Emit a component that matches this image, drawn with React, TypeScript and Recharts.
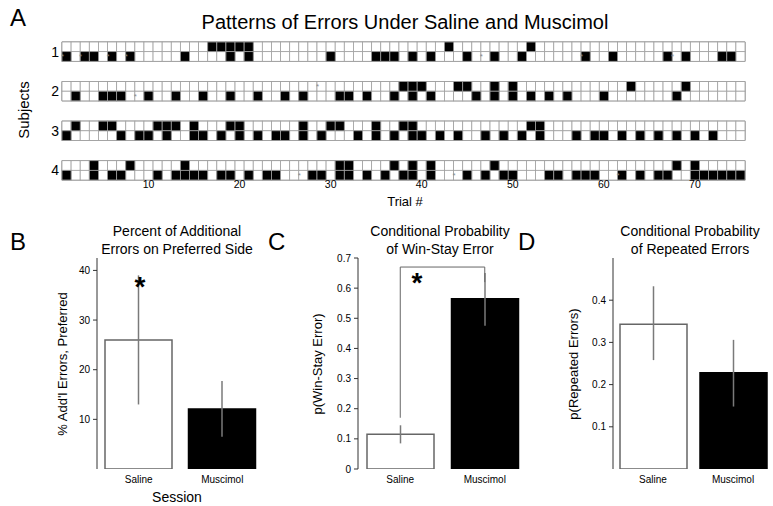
import React from 'react';
import {
  ScatterChart, Scatter, XAxis, YAxis, ReferenceArea, BarChart, Bar, ErrorBar, Cell, ReferenceLine,
} from 'recharts';

const FONT = '"Liberation Sans", Arial, Helvetica, sans-serif';

// ---- panel A: error pattern grid ----
const trialTicks = [10, 20, 30, 40, 50, 60, 70];
const trialCount = 75;

const sub1Sal = [17, 18, 19, 20, 21, 43, 52];
const sub1Musc = [1, 3, 4, 6, 8, 14, 19, 21, 30, 35, 36, 37, 39, 41, 45, 48, 51, 58, 61, 67, 69, 73, 74];
const sub2Sal = [38, 39, 40, 44, 45, 48, 50, 63, 69];
const sub2Musc = [2, 5, 6, 7, 10, 13, 16, 19, 22, 25, 27, 31, 32, 34, 37, 39, 41, 46, 48, 50, 52, 54, 56, 60, 68];
const sub3Sal = [2, 5, 6, 11, 12, 13, 15, 19, 20, 27, 30, 31, 35, 38, 39, 52, 53];
const sub3Musc = [1, 7, 9, 10, 12, 15, 16, 18, 20, 22, 24, 25, 27, 29, 33, 35, 37, 39, 40, 42, 44, 47, 49, 51, 53, 57, 59, 60, 62, 64, 66, 68, 70, 72];
const sub4Sal = [4, 8, 14, 31, 32, 37, 39, 41, 48, 68, 70];
const sub4Musc = [1, 4, 6, 7, 11, 13, 14, 15, 16, 18, 19, 21, 23, 24, 28, 29, 31, 32, 34, 36, 38, 39, 41, 45, 47, 49, 50, 54, 55, 57, 58, 59, 62, 64, 66, 67, 70, 71, 72, 73, 74, 75];

// small grey marks
const sub1MuscMarks = [1, 3, 6, 8, 47, 58, 68];
const sub2SalMarks = [29];
const sub2MuscMarks = [9];
const sub4MuscMarks = [27, 44, 62];

const subjects = ['1', '2', '3', '4'];
const rowNames = ['Sal', 'Musc'];
const errorRows = [
  [sub1Sal, sub1Musc],
  [sub2Sal, sub2Musc],
  [sub3Sal, sub3Musc],
  [sub4Sal, sub4Musc],
];
const markRows = [
  [[], sub1MuscMarks],
  [sub2SalMarks, sub2MuscMarks],
  [[], []],
  [[], sub4MuscMarks],
];

const BLOCK = 4.1; // row units between subject blocks
const rowY = (s: number, r: number) => s * BLOCK + r;

const allCells: { x: number; y: number }[] = [];
const errCells: { x: number; y: number }[] = [];
const marks: { x: number; y: number }[] = [];
errorRows.forEach((rows, s) => {
  rows.forEach((errs, r) => {
    for (let t = 1; t <= trialCount; t++) {
      allCells.push({ x: t, y: rowY(s, r) });
    }
    errs.forEach((t) => errCells.push({ x: t, y: rowY(s, r) }));
    (markRows[s][r] as number[]).forEach((t) => marks.push({ x: t - 0.45, y: rowY(s, r) }));
  });
});
const subjectTicks = subjects.map((_, s) => rowY(s, 0.5));
const rowTicks = subjects.flatMap((_, s) => [rowY(s, 0), rowY(s, 1)]);

const A_W = 773;
const A_H = 210;
const A_M = { top: 42, right: 0, bottom: 8, left: 48 };
const A_YL = 14;
const A_YR = 28;
const A_XH = 22;
const yDomA: [number, number] = [-0.5, rowY(3, 1) + 0.5];
const CW = (A_W - A_M.left - A_M.right - A_YL - A_YR) / trialCount;
const CH = (A_H - A_M.top - A_M.bottom - A_XH) / (yDomA[1] - yDomA[0]);

const cellShape = (fill: string) => (p: any) => (
  <rect x={p.cx - CW / 2} y={p.cy - CH / 2} width={CW} height={CH} fill={fill} stroke="#a0a0a0" strokeWidth={0.8} />
);
const markShape = (p: any) => (
  <text x={p.cx} y={p.cy + 3} fontSize={8} fill="#8c8c8c" textAnchor="middle" fontFamily={FONT}>*</text>
);

// ---- panels B, C, D ----
const sessions = ['Saline', 'Muscimol'];
const prefSideMean = [26, 12.1];
const prefSideErr = [[13, 13], [5.6, 5.6]];
const winStayMean = [0.115, 0.565];
const winStayErr = [[0.03, 0.03], [0.09, 0.085]];
const repeatMean = [0.343, 0.228];
const repeatErr = [[0.085, 0.09], [0.08, 0.078]];

const mk = (mean: number[], err: number[][]) =>
  sessions.map((name, i) => ({ name, value: mean[i], err: err[i] }));

const barColors = [
  { fill: '#ffffff', stroke: '#666666' },
  { fill: '#000000', stroke: '#000000' },
];

interface PanelProps {
  data: { name: string; value: number; err: number[] }[];
  axisX: number;
  rightX: number;
  domain: [number, number];
  ticks: number[];
  fmt?: (v: number) => string;
  children?: React.ReactNode;
}

const PLOT_TOP = 258;
const PLOT_BOTTOM = 469;
const Y_W = 30;
const X_H = 22;

const Panel: React.FC<PanelProps> = ({ data, axisX, rightX, domain, ticks, fmt, children }) => (
  <div style={{ position: 'absolute', left: 0, top: 0 }}>
    <BarChart
      width={773}
      height={506}
      data={data}
      barSize={67}
      margin={{ top: PLOT_TOP, bottom: 506 - PLOT_BOTTOM - X_H, left: axisX - Y_W, right: 773 - rightX }}
    >
      <XAxis dataKey="name" axisLine={false} tickLine={false} tickSize={0} tickMargin={7} height={X_H}
        tick={{ fontSize: 10, fill: '#000', fontFamily: FONT }} />
      <YAxis type="number" domain={domain} ticks={ticks} interval={0} width={Y_W} allowDataOverflow
        axisLine={{ stroke: '#333', strokeWidth: 1 }} tickLine={{ stroke: '#333' }} tickSize={4} tickMargin={3}
        tickFormatter={fmt} tick={{ fontSize: 10, fill: '#000', fontFamily: FONT }} />
      <Bar dataKey="value" isAnimationActive={false} strokeWidth={1.5}>
        {data.map((_, i) => (
          <Cell key={i} fill={barColors[i].fill} stroke={barColors[i].stroke} />
        ))}
        <ErrorBar dataKey="err" width={0} stroke="#7a7a7a" strokeWidth={1.5} direction="y" />
      </Bar>
      {children}
    </BarChart>
  </div>
);

const txt = { fontFamily: FONT, fill: '#000' };

export default function App() {
  return (
    <div style={{ position: 'absolute', left: 0, top: 0, width: 773, height: 506, background: '#fff', fontFamily: FONT }}>
      <div style={{ position: 'absolute', left: 0, top: 0 }}>
        <ScatterChart width={A_W} height={A_H} margin={A_M}>
          <XAxis type="number" dataKey="x" domain={[0.5, trialCount + 0.5]} ticks={trialTicks} interval={0}
            axisLine={false} tickLine={false} tickSize={0} tickMargin={1} height={A_XH}
            tick={{ fontSize: 10.5, fill: '#000', fontFamily: FONT }} />
          <YAxis yAxisId="l" type="number" dataKey="y" domain={yDomA} reversed ticks={subjectTicks} interval={0}
            width={A_YL} axisLine={false} tickLine={false} tickSize={0} tickMargin={3}
            tickFormatter={(v: number) => subjects[Math.round((v - 0.5) / BLOCK)]}
            tick={{ fontSize: 14, fill: '#000', fontFamily: FONT }} />
          <YAxis yAxisId="r" orientation="right" type="number" dataKey="y" domain={yDomA} reversed ticks={rowTicks}
            interval={0} width={A_YR} axisLine={false} tickLine={false} tickSize={0} tickMargin={3}
            tickFormatter={(v: number) => rowNames[Math.round(v - Math.floor(v / BLOCK) * BLOCK) === 0 ? 0 : 1]}
            tick={{ fontSize: 9, fill: '#000', fontFamily: FONT, textAnchor: 'start' }} />
          <Scatter yAxisId="l" data={allCells} shape={cellShape('#ffffff')} isAnimationActive={false} />
          <Scatter yAxisId="l" data={errCells} shape={cellShape('#000000')} isAnimationActive={false} />
          <Scatter yAxisId="l" data={marks} shape={markShape} isAnimationActive={false} />
          <Scatter yAxisId="r" data={[]} isAnimationActive={false} />
          {subjects.map((_, s) => (
            <ReferenceArea key={s} yAxisId="l" x1={0.5} x2={trialCount + 0.5} y1={rowY(s, -0.5)} y2={rowY(s, 1.5)}
              fill="none" stroke="#777" strokeWidth={1} />
          ))}
        </ScatterChart>
      </div>

      <Panel data={mk(prefSideMean, prefSideErr)} axisX={97} rightX={264} domain={[0, 42.5]} ticks={[10, 20, 30, 40]} />
      <Panel data={mk(winStayMean, winStayErr)} axisX={358} rightX={527} domain={[0, 0.7]}
        ticks={[0, 0.1, 0.2, 0.3, 0.4, 0.5, 0.6, 0.7]} fmt={(v) => (v === 0 ? '0' : String(v))}>
        <ReferenceLine segment={[{ x: 'Saline', y: 0.17 }, { x: 'Saline', y: 0.67 }]} stroke="#666" strokeWidth={1} />
        <ReferenceLine segment={[{ x: 'Saline', y: 0.67 }, { x: 'Muscimol', y: 0.67 }]} stroke="#666" strokeWidth={1} />
        <ReferenceLine segment={[{ x: 'Muscimol', y: 0.67 }, { x: 'Muscimol', y: 0.62 }]} stroke="#666" strokeWidth={1} />
      </Panel>
      <Panel data={mk(repeatMean, repeatErr)} axisX={613} rightX={773} domain={[0, 0.5]} ticks={[0.1, 0.2, 0.3, 0.4]} />

      <svg width={773} height={506} style={{ position: 'absolute', left: 0, top: 0, pointerEvents: 'none' }}>
        <text x={10} y={26} fontSize={24} {...txt}>A</text>
        <text x={405} y={29} fontSize={20} textAnchor="middle" {...txt}>Patterns of Errors Under Saline and Muscimol</text>
        <text x={29} y={110} fontSize={15} textAnchor="middle" transform="rotate(-90 29 110)" {...txt}>Subjects</text>
        <text x={405} y={206} fontSize={13} textAnchor="middle" {...txt}>Trial #</text>

        <text x={10} y={250} fontSize={24} {...txt}>B</text>
        <text x={177} y={236} fontSize={14} textAnchor="middle" {...txt}>Percent of Additional</text>
        <text x={177} y={254} fontSize={14} textAnchor="middle" {...txt}>Errors on Preferred Side</text>
        <text x={67} y={364} fontSize={13} textAnchor="middle" transform="rotate(-90 67 364)" {...txt}>% Add'l Errors, Preferred</text>
        <text x={177} y={502} fontSize={14} textAnchor="middle" {...txt}>Session</text>
        <text x={140} y={296} fontSize={28} fontWeight="bold" textAnchor="middle" {...txt}>*</text>

        <text x={268} y={250} fontSize={24} {...txt}>C</text>
        <text x={440} y={236} fontSize={14} textAnchor="middle" {...txt}>Conditional Probability</text>
        <text x={440} y={254} fontSize={14} textAnchor="middle" {...txt}>of Win-Stay Error</text>
        <text x={322} y={364} fontSize={13} textAnchor="middle" transform="rotate(-90 322 364)" {...txt}>p(Win-Stay Error)</text>
        <text x={417} y={292} fontSize={28} fontWeight="bold" textAnchor="middle" {...txt}>*</text>

        <text x={518} y={250} fontSize={24} {...txt}>D</text>
        <text x={690} y={236} fontSize={14} textAnchor="middle" {...txt}>Conditional Probability</text>
        <text x={690} y={254} fontSize={14} textAnchor="middle" {...txt}>of Repeated Errors</text>
        <text x={578} y={364} fontSize={13} textAnchor="middle" transform="rotate(-90 578 364)" {...txt}>p(Repeated Errors)</text>
      </svg>
    </div>
  );
}
